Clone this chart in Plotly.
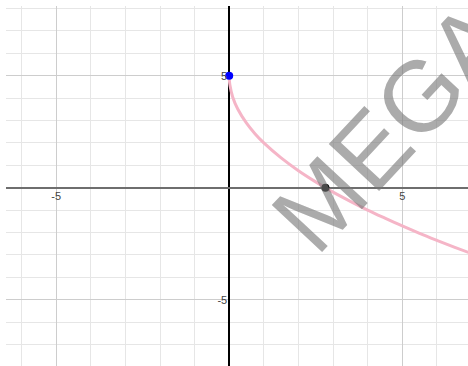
import plotly.graph_objects as go

# points
curve_x = [0, 0.005, 0.02, 0.1, 0.25, 0.5, 0.75, 1, 1.5, 2, 2.5, 2.78, 3, 3.5, 4, 4.5, 5, 5.5, 6, 6.5, 7.0]
curve_y = [5, 4.79, 4.58, 4.05, 3.5, 2.88, 2.40, 2.0, 1.33, 0.76, 0.26, 0.0, -0.20, -0.61, -1.0, -1.36, -1.71, -2.04, -2.35, -2.65, -2.94]

start_pt = (0, 5)
root_pt = (2.78, 0)

x_range = [-6.45, 6.9]
y_range = [-7.96, 8.11]
tick_vals = [-5, 5]
tick_text = ["-5", "5"]

fig = go.Figure()
fig.add_trace(go.Scatter(x=curve_x, y=curve_y, mode="lines",
                         line=dict(color="#f5b5c7", width=3, shape="spline"),
                         hoverinfo="skip"))
fig.add_trace(go.Scatter(x=[start_pt[0]], y=[start_pt[1]], mode="markers",
                         marker=dict(color="#0000ff", size=8)))
fig.add_trace(go.Scatter(x=[root_pt[0]], y=[root_pt[1]], mode="markers",
                         marker=dict(color="#000000", size=8)))

xpos = -x_range[0] / (x_range[1] - x_range[0])
ypos = -y_range[0] / (y_range[1] - y_range[0])

fig.update_layout(
    width=468, height=366,
    margin=dict(l=6, r=0, t=6, b=0),
    plot_bgcolor="white", paper_bgcolor="white",
    showlegend=False,
    font=dict(family="Liberation Sans", size=11, color="#444"),
    xaxis=dict(range=x_range, tickvals=tick_vals, ticktext=tick_text,
               anchor="free", position=ypos, ticks="", ticklabelstandoff=0,
               showgrid=True, gridcolor="#cdcdcd", gridwidth=1,
               minor=dict(dtick=1, tick0=0, showgrid=True, gridcolor="#e6e6e6", gridwidth=1),
               zeroline=True, zerolinecolor="#000000", zerolinewidth=2,
               showline=False, automargin=False, fixedrange=True),
    yaxis=dict(range=y_range, tickvals=tick_vals, ticktext=tick_text,
               anchor="free", position=xpos, ticks="", ticklabelstandoff=2,
               showgrid=True, gridcolor="#cdcdcd", gridwidth=1,
               minor=dict(dtick=1, tick0=0, showgrid=True, gridcolor="#e6e6e6", gridwidth=1),
               zeroline=True, zerolinecolor="#6e6e6e", zerolinewidth=2,
               showline=False, automargin=False, fixedrange=True),
)

# watermark
fig.add_annotation(text="MEGA", x=4.7, y=2.75, xref="x", yref="y",
                   showarrow=False, textangle=-47,
                   font=dict(family="Liberation Sans", size=100,
                             color="rgba(120,120,120,0.62)"))

fig.write_html("out.html", config={"displayModeBar": False},
               post_script="document.body.style.margin='0px';")
